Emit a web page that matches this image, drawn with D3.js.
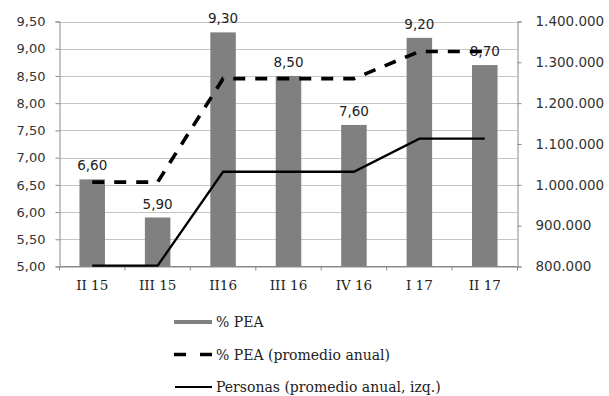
<!DOCTYPE html>
<html>
<head>
<meta charset="utf-8">
<script src="https://cdn.jsdelivr.net/npm/d3@7"></script>
<style>
  html, body { margin: 0; padding: 0; background: #fff; }
  svg { display: block; }
</style>
</head>
<body>
<svg id="chart" width="609" height="396"></svg>
<script>
// Quarters on the x axis
const categories = ["II 15", "III 15", "II16", "III 16", "IV 16", "I 17", "II 17"];
// Unemployment rate per quarter (% of PEA), left axis
const pctPEA = [6.60, 5.90, 9.30, 8.50, 7.60, 9.20, 8.70];
// Annual moving average of the rate, left axis
const pctPEAAvg = [6.55, 6.55, 8.45, 8.45, 8.45, 8.95, 8.95];
// Annual average of people, right axis
const personas = [802000, 802000, 1032000, 1032000, 1032000, 1113000, 1113000];
// Tick labels
const leftTicks = [5.0, 5.5, 6.0, 6.5, 7.0, 7.5, 8.0, 8.5, 9.0, 9.5];
const rightTicks = [800000, 900000, 1000000, 1100000, 1200000, 1300000, 1400000];
const legendLabels = ["% PEA", "% PEA (promedio anual)", "Personas (promedio anual, izq.)"];

const svg = d3.select("#chart");
const m = { left: 59.5, right: 517.5, top: 21.5, bottom: 266.5 };

const x = d3.scaleBand().domain(categories).range([m.left, m.right]).paddingInner(0).paddingOuter(0);
const yL = d3.scaleLinear().domain([5, 9.5]).range([m.bottom, m.top]);
const yR = d3.scaleLinear().domain([800000, 1400000]).range([m.bottom, m.top]);

const esNum = d3.formatLocale({ decimal: ",", thousands: ".", grouping: [3], currency: ["", ""] });
const fmt2 = esNum.format(".2f");
const fmtInt = esNum.format(",.0f");

const sans = "'DejaVu Sans', Verdana, sans-serif";
const serif = "'DejaVu Serif', serif";
const gridColor = "#c4c4c4";
const axisColor = "#8a8a8a";

// Horizontal gridlines
svg.append("g")
  .selectAll("line")
  .data(leftTicks)
  .join("line")
  .attr("x1", m.left).attr("x2", m.right)
  .attr("y1", d => Math.round(yL(d)) + 0.5).attr("y2", d => Math.round(yL(d)) + 0.5)
  .attr("stroke", gridColor).attr("stroke-width", 1);

// Left axis
const gL = svg.append("g").attr("transform", `translate(${m.left},0)`)
  .call(d3.axisLeft(yL).tickValues(leftTicks).tickFormat(fmt2).tickSize(4).tickPadding(10));
gL.select(".domain").attr("stroke", axisColor);
gL.selectAll(".tick line").attr("stroke", axisColor);
gL.selectAll(".tick text").attr("font-family", sans).attr("font-size", 13).attr("fill", "#333");

// Right axis
const gR = svg.append("g").attr("transform", `translate(${m.right},0)`)
  .call(d3.axisRight(yR).tickValues(rightTicks).tickFormat(fmtInt).tickSize(4).tickPadding(14));
gR.select(".domain").attr("stroke", axisColor);
gR.selectAll(".tick line").attr("stroke", axisColor);
gR.selectAll(".tick text").attr("font-family", sans).attr("font-size", 13.5).attr("fill", "#333");

// Bottom axis: ticks at band boundaries
const gB = svg.append("g").attr("transform", `translate(0,${m.bottom})`);
gB.append("line").attr("x1", m.left).attr("x2", m.right).attr("y1", 0).attr("y2", 0).attr("stroke", axisColor);
gB.selectAll("line.tk")
  .data(categories.concat(["end"]))
  .join("line").attr("class", "tk")
  .attr("x1", (d, i) => m.left + i * x.bandwidth()).attr("x2", (d, i) => m.left + i * x.bandwidth())
  .attr("y1", 0).attr("y2", 4).attr("stroke", axisColor);
gB.selectAll("text")
  .data(categories)
  .join("text")
  .attr("x", d => x(d) + x.bandwidth() / 2)
  .attr("y", 23)
  .attr("text-anchor", "middle")
  .attr("font-family", serif).attr("font-size", 13.5).attr("fill", "#222")
  .text(d => d);

// Bars
const barW = x.bandwidth() * 0.39;
svg.append("g")
  .selectAll("rect")
  .data(pctPEA)
  .join("rect")
  .attr("x", (d, i) => x(categories[i]) + (x.bandwidth() - barW) / 2)
  .attr("y", d => yL(d))
  .attr("width", barW)
  .attr("height", d => yL(5) - yL(d))
  .attr("fill", "#808080");

// Value labels
svg.append("g")
  .selectAll("text")
  .data(pctPEA)
  .join("text")
  .attr("x", (d, i) => x(categories[i]) + x.bandwidth() / 2)
  .attr("y", d => yL(d) - 9)
  .attr("text-anchor", "middle")
  .attr("font-family", sans).attr("font-size", 13.5).attr("fill", "#222")
  .text(d => fmt2(d));

const cx = (d, i) => x(categories[i]) + x.bandwidth() / 2;

// Persons line (right axis)
svg.append("path")
  .datum(personas)
  .attr("fill", "none").attr("stroke", "#000").attr("stroke-width", 2.3)
  .attr("d", d3.line().x(cx).y(d => yR(d)));

// Annual average rate, dashed (left axis)
svg.append("path")
  .datum(pctPEAAvg)
  .attr("fill", "none").attr("stroke", "#000").attr("stroke-width", 3.6)
  .attr("stroke-dasharray", "12,10")
  .attr("d", d3.line().x(cx).y(d => yL(d)));

// Legend
const lg = svg.append("g");
const rows = [322, 354.5, 387];
const lx0 = 174, lx1 = 212;
lg.append("line").attr("x1", lx0).attr("x2", lx1).attr("y1", rows[0]).attr("y2", rows[0])
  .attr("stroke", "#808080").attr("stroke-width", 4);
lg.append("line").attr("x1", lx0).attr("x2", lx1).attr("y1", rows[1]).attr("y2", rows[1])
  .attr("stroke", "#000").attr("stroke-width", 3.6).attr("stroke-dasharray", "12,14");
lg.append("line").attr("x1", lx0 + 1).attr("x2", lx1).attr("y1", rows[2]).attr("y2", rows[2])
  .attr("stroke", "#000").attr("stroke-width", 2);
lg.selectAll("text")
  .data(legendLabels)
  .join("text")
  .attr("x", 216)
  .attr("y", (d, i) => rows[i] + 5)
  .attr("font-family", serif).attr("font-size", 14).attr("fill", "#222")
  .text(d => d);
</script>
</body>
</html>
